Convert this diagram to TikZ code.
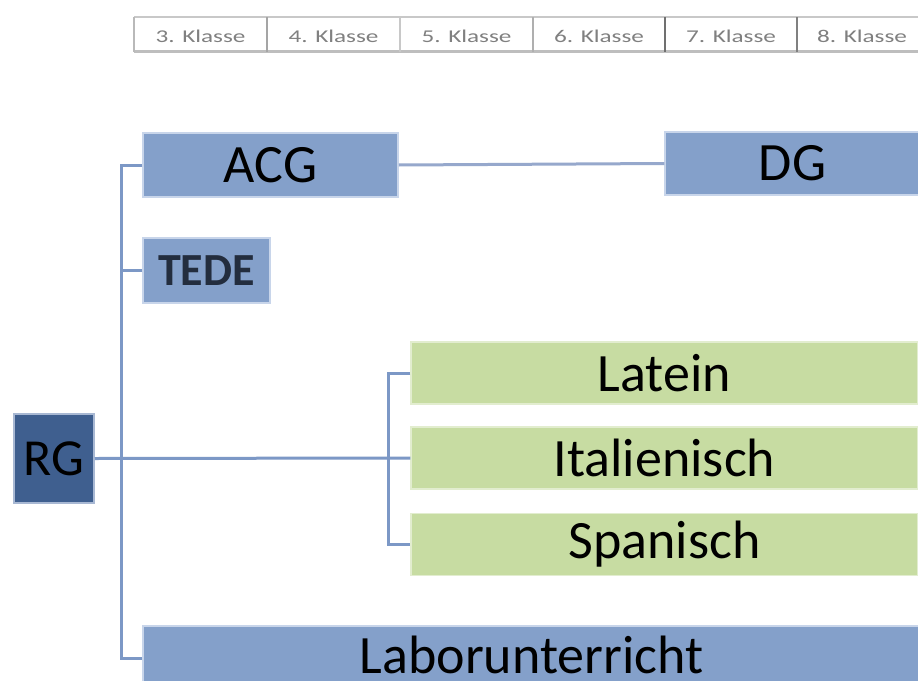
\documentclass[tikz,border=0pt]{standalone}
\usepackage{fontspec}
\setmainfont{Carlito}
\definecolor{boxblue}{RGB}{132,160,202}
\definecolor{boxblueedge}{RGB}{200,213,234}
\definecolor{boxgreen}{RGB}{199,220,162}
\definecolor{boxgreenedge}{RGB}{226,237,207}
\definecolor{rgblue}{RGB}{63,95,143}
\definecolor{rgedge}{RGB}{168,184,211}
\definecolor{linkblue}{RGB}{124,152,198}
\definecolor{linkgray}{RGB}{150,168,204}
\definecolor{hdrtext}{RGB}{128,128,128}
\definecolor{tedetext}{RGB}{35,45,62}
\definecolor{gA}{RGB}{200,200,200}
\definecolor{gB}{RGB}{190,190,190}
\definecolor{gC}{RGB}{185,185,185}
\definecolor{gD}{RGB}{165,165,165}
\definecolor{gE}{RGB}{175,175,175}
\definecolor{gF}{RGB}{112,112,112}
\definecolor{gG}{RGB}{128,128,128}
\tikzset{
  bluebox/.style={draw=boxblueedge, line width=1.5pt, fill=boxblue, inner sep=0pt, text=black,
    font=\fontsize{54}{60}\selectfont},
  greenbox/.style={draw=boxgreenedge, line width=1.5pt, fill=boxgreen, inner sep=0pt, text=black,
    minimum width=507pt, minimum height=62pt, font=\fontsize{54}{60}\selectfont},
  link/.style={draw=linkblue, line width=3pt},
  hdrcell/.style={text=hdrtext, inner sep=0pt, font=\fontsize{18}{20}\selectfont, xscale=1.4},
}
\begin{document}
\begin{tikzpicture}[x=1pt,y=-1pt]
\clip (0,0) rectangle (918,680);
\fill[white] (0,0) rectangle (918,680);
% header row
\draw[line width=2pt, draw=gA] (134,17) -- (918,17);
\draw[line width=3pt, draw=gB] (134,51) -- (918,51);
\draw[line width=2pt, draw=gC] (134,17) -- (134,52);
\draw[line width=2pt, draw=gD] (267,17) -- (267,52);
\draw[line width=2pt, draw=gA] (400,17) -- (400,52);
\draw[line width=2pt, draw=gE] (533,17) -- (533,52);
\draw[line width=2pt, draw=gF] (665,17) -- (665,52);
\draw[line width=2pt, draw=gG] (797,17) -- (797,52);
\node[hdrcell] (k3) at (200.5,36) {3. Klasse};
\node[hdrcell] (k4) at (333.5,36) {4. Klasse};
\node[hdrcell] (k5) at (466.5,36) {5. Klasse};
\node[hdrcell] (k6) at (599,36) {6. Klasse};
\node[hdrcell] (k7) at (731,36) {7. Klasse};
\node[hdrcell] (k8) at (862,36) {8. Klasse};
% nodes
\node[draw=rgedge, line width=1.5pt, fill=rgblue, inner sep=0pt, minimum width=80pt, minimum height=89pt,
  font=\fontsize{52}{58}\selectfont] (RG) at (54,458.5) {RG};
\node[bluebox, minimum width=255pt, minimum height=64pt] (ACG) at (270.5,165) {ACG};
\node[bluebox, minimum width=127pt, minimum height=65pt, font=\bfseries\fontsize{46}{50}\selectfont,
  text=tedetext] (TEDE) at (206.5,270.5) {TEDE};
\node[bluebox, minimum width=255pt, minimum height=63pt] (DG) at (792.5,163.5) {DG};
\node[greenbox] (Latein) at (664.5,373) {Latein};
\node[greenbox] (Ital) at (664.5,458) {Italienisch};
\node[greenbox] (Span) at (664.5,544.5) {Spanisch};
\node[bluebox, minimum width=777pt, minimum height=64pt, text depth=7pt] (Labor) at (531.5,658) {Laborunterricht};
% connectors
\coordinate (busTop) at (121,165);
\coordinate (busBot) at (121,658);
\coordinate (brk) at (388,458);
\draw[link] (ACG.west) -- (busTop) -- (busBot) -- (Labor.west);
\draw[link] (TEDE.west) -- (TEDE.west -| busTop);
\draw[link] (RG.east) -- (Ital.west);
\draw[link] (Latein.west) -- (Latein.west -| brk) -- (Span.west -| brk) -- (Span.west);
\draw[link, draw=linkgray] (ACG.east) -- (DG.west);
\end{tikzpicture}
\end{document}
